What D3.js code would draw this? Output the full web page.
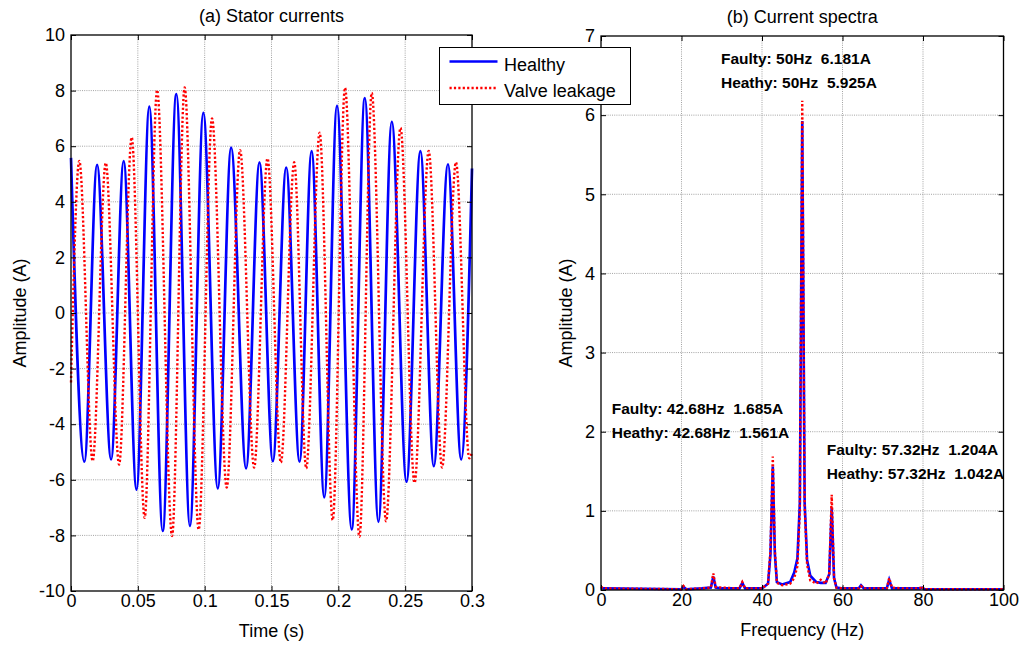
<!DOCTYPE html>
<html>
<head>
<meta charset="utf-8">
<script src="https://cdn.jsdelivr.net/npm/d3@7"></script>
<style>
  body { margin: 0; background: #fff; }
  svg text { font-family: "Liberation Sans", Arial, sans-serif; fill: #000; }
  .grid line { stroke: #8c8c8c; stroke-width: 0.8; stroke-dasharray: 1,1.2; }
  .note { font-weight: bold; font-size: 15.5px; white-space: pre; }
</style>
</head>
<body>
<svg id="chart" width="1022" height="648"></svg>
<script>
// (a) stator currents - peaks/troughs (s, A)
const healthyTime = [0, 0.010, 0.0195, 0.030, 0.0394, 0.049, 0.0586, 0.0686, 0.0788, 0.089,
  0.099, 0.1098, 0.1198, 0.131, 0.141, 0.151, 0.161, 0.171, 0.180, 0.1895,
  0.199, 0.210, 0.2198, 0.230, 0.240, 0.251, 0.2614, 0.2714, 0.282, 0.2919, 0.3];
const healthyCurrent = [5.58, -5.35, 5.33, -5.27, 5.46, -6.35, 7.42, -7.84, 7.87, -7.66,
  7.2, -6.31, 5.95, -5.59, 5.42, -5.33, 5.23, -5.35, 5.82, -6.63,
  7.45, -7.78, 7.73, -7.51, 6.88, -6.07, 5.82, -5.51, 5.35, -5.27, 5.2];

const leakTime = [0, 0.0062, 0.0162, 0.026, 0.036, 0.0454, 0.0551, 0.0644, 0.0756, 0.085,
  0.0955, 0.1055, 0.1165, 0.1265, 0.137, 0.147, 0.157, 0.167, 0.176, 0.186,
  0.1958, 0.205, 0.2158, 0.225, 0.2357, 0.2465, 0.257, 0.2676, 0.2776, 0.288, 0.298, 0.3];
const leakCurrent = [-2.5, 5.47, -5.33, 5.4, -5.45, 6.32, -7.37, 8.02, -8.02, 8.11,
  -7.79, 7.0, -6.28, 5.86, -5.56, 5.56, -5.38, 5.42, -5.59, 6.49,
  -7.45, 8.1, -8.05, 7.92, -7.49, 6.66, -6.11, 5.83, -5.56, 5.42, -5.23, -5.0];

// (b) current spectra (Hz, A)
const freqHz = [0, 0.6, 20, 20.5, 21.2, 25, 27.3, 27.9, 28.5, 30,
  34.4, 35.1, 35.8, 40, 41.5, 42.1, 42.68, 43.2, 43.7, 45,
  47, 48, 48.8, 49.4, 50, 50.6, 51.2, 52, 53.5, 54.6,
  55.8, 56.7, 57.32, 57.9, 58.5, 60, 64, 64.6, 65.3, 70,
  71, 71.6, 72.3, 75, 79.2, 79.7, 80.3, 100];
const specHealthy = [0.03, 0.02, 0.01, 0.04, 0.01, 0.02, 0.03, 0.17, 0.03, 0.02,
  0.02, 0.09, 0.02, 0.02, 0.08, 0.45, 1.561, 0.45, 0.1, 0.07,
  0.1, 0.22, 0.4, 1.1, 5.925, 1.1, 0.38, 0.18, 0.1, 0.09,
  0.09, 0.2, 1.042, 0.15, 0.03, 0.02, 0.02, 0.06, 0.02, 0.02,
  0.02, 0.13, 0.02, 0.02, 0.02, 0.03, 0.01, 0.01];
const specLeak = [0.04, 0.02, 0.01, 0.05, 0.01, 0.02, 0.03, 0.21, 0.04, 0.03,
  0.02, 0.10, 0.02, 0.02, 0.08, 0.5, 1.685, 0.5, 0.09, 0.06,
  0.08, 0.15, 0.3, 1.0, 6.181, 1.05, 0.32, 0.12, 0.08, 0.13,
  0.08, 0.2, 1.204, 0.15, 0.03, 0.02, 0.02, 0.05, 0.02, 0.02,
  0.02, 0.15, 0.03, 0.02, 0.02, 0.05, 0.01, 0.01];

const timeTicks = [0, 0.05, 0.1, 0.15, 0.2, 0.25, 0.3];
const currentTicks = [-10, -8, -6, -4, -2, 0, 2, 4, 6, 8, 10];
const freqTicks = [0, 20, 40, 60, 80, 100];
const ampTicks = [0, 1, 2, 3, 4, 5, 6, 7];

const seriesNames = ["Healthy", "Valve leakage"];
const peakNotes = [
  ["Faulty: 50Hz  6.181A", "Heathy: 50Hz  5.925A"],
  ["Faulty: 42.68Hz  1.685A", "Heathy: 42.68Hz  1.561A"],
  ["Faulty: 57.32Hz  1.204A", "Heathy: 57.32Hz  1.042A"]
];

class Panel {

  constructor(_config) {
    this.config = {
      svg: _config.svg,
      left: _config.left,
      top: _config.top,
      width: _config.width,
      height: _config.height,
      xDomain: _config.xDomain,
      yDomain: _config.yDomain,
      xTicks: _config.xTicks,
      yTicks: _config.yTicks,
      title: _config.title,
      xLabel: _config.xLabel,
      yLabel: _config.yLabel,
      yLabelX: _config.yLabelX
    };
    this.initVis();
  }

  initVis() {
    let vis = this;
    let c = vis.config;

    vis.chart = c.svg.append('g')
      .attr('transform', `translate(${c.left},${c.top})`);

    vis.xScale = d3.scaleLinear().domain(c.xDomain).range([0, c.width]);
    vis.yScale = d3.scaleLinear().domain(c.yDomain).range([c.height, 0]);

    // dotted grid
    let grid = vis.chart.append('g').attr('class', 'grid');
    grid.selectAll('.gx')
      .data(c.xTicks.slice(1, -1))
      .join('line')
      .attr('x1', d => vis.xScale(d)).attr('x2', d => vis.xScale(d))
      .attr('y1', 0).attr('y2', c.height);
    grid.selectAll('.gy')
      .data(c.yTicks.slice(1, -1))
      .join('line')
      .attr('y1', d => vis.yScale(d)).attr('y2', d => vis.yScale(d))
      .attr('x1', 0).attr('x2', c.width);

    vis.lineLayer = vis.chart.append('g');

    // axes, ticks point inwards like matlab
    let fmt = d => String(d);
    vis.chart.append('g')
      .attr('transform', `translate(0,${c.height})`)
      .call(d3.axisBottom(vis.xScale).tickValues(c.xTicks).tickFormat(fmt)
        .tickSizeInner(-5).tickSizeOuter(0).tickPadding(3))
      .call(g => g.select('.domain').remove());
    vis.chart.append('g')
      .call(d3.axisTop(vis.xScale).tickValues(c.xTicks).tickFormat('')
        .tickSizeInner(-5).tickSizeOuter(0))
      .call(g => g.select('.domain').remove());
    vis.chart.append('g')
      .call(d3.axisLeft(vis.yScale).tickValues(c.yTicks).tickFormat(fmt)
        .tickSizeInner(-5).tickSizeOuter(0).tickPadding(6))
      .call(g => g.select('.domain').remove());
    vis.chart.append('g')
      .attr('transform', `translate(${c.width},0)`)
      .call(d3.axisRight(vis.yScale).tickValues(c.yTicks).tickFormat('')
        .tickSizeInner(-5).tickSizeOuter(0))
      .call(g => g.select('.domain').remove());

    vis.chart.selectAll('.tick text')
      .attr('font-size', 18)
      .attr('font-family', '"Liberation Sans", Arial, sans-serif')
      .attr('fill', '#000');
    vis.chart.selectAll('.tick line').attr('stroke', '#000');

    vis.chart.append('rect')
      .attr('width', c.width).attr('height', c.height)
      .attr('fill', 'none').attr('stroke', '#000').attr('stroke-width', 1.3);

    vis.chart.append('text')
      .attr('x', c.width / 2).attr('y', -13)
      .attr('text-anchor', 'middle').attr('font-size', 18)
      .text(c.title);
    vis.chart.append('text')
      .attr('x', c.width / 2).attr('y', c.height + 46)
      .attr('text-anchor', 'middle').attr('font-size', 18)
      .text(c.xLabel);
    vis.chart.append('text')
      .attr('transform', `translate(${c.yLabelX},${c.height / 2}) rotate(-90)`)
      .attr('text-anchor', 'middle').attr('font-size', 18)
      .text(c.yLabel);
  }

  addLine(xs, ys, color, dotted, width, curve) {
    let vis = this;
    let pts = xs.map((x, i) => [x, ys[i]]);
    let line = d3.line()
      .x(d => vis.xScale(d[0]))
      .y(d => vis.yScale(d[1]))
      .curve(curve);
    vis.lineLayer.append('path')
      .datum(pts)
      .attr('d', line)
      .attr('fill', 'none')
      .attr('stroke', color)
      .attr('stroke-width', width)
      .attr('stroke-dasharray', dotted ? '2.2,2.2' : null);
  }
}

const svg = d3.select('#chart');
const blue = '#0000ff', red = '#ff0000';

let stator = new Panel({
  svg: svg, left: 71, top: 35, width: 401, height: 556,
  xDomain: [0, 0.3], yDomain: [-10, 10],
  xTicks: timeTicks, yTicks: currentTicks,
  title: '(a) Stator currents', xLabel: 'Time (s)', yLabel: 'Amplitude (A)',
  yLabelX: -45
});
stator.addLine(healthyTime, healthyCurrent, blue, false, 2.7, d3.curveMonotoneX);
stator.addLine(leakTime, leakCurrent, red, true, 2.4, d3.curveMonotoneX);

let spectra = new Panel({
  svg: svg, left: 601, top: 36, width: 402.5, height: 554,
  xDomain: [0, 100], yDomain: [0, 7],
  xTicks: freqTicks, yTicks: ampTicks,
  title: '(b) Current spectra', xLabel: 'Frequency (Hz)', yLabel: 'Amplitude (A)',
  yLabelX: -29
});
spectra.addLine(freqHz, specHealthy, blue, false, 2.6, d3.curveLinear);
spectra.addLine(freqHz, specLeak, red, true, 2.4, d3.curveLinear);

// peak annotations, anchored in data coordinates
const noteAnchors = [[29.8, 6.64], [2.66, 2.22], [56.07, 1.71]];
peakNotes.forEach((pair, i) => {
  pair.forEach((txt, j) => {
    spectra.chart.append('text')
      .attr('class', 'note')
      .attr('x', spectra.xScale(noteAnchors[i][0]))
      .attr('y', spectra.yScale(noteAnchors[i][1]) + j * 24)
      .text(txt);
  });
});

// legend
let legend = svg.append('g').attr('transform', 'translate(439.5,47.5)');
legend.append('rect')
  .attr('width', 191).attr('height', 57)
  .attr('fill', '#fff').attr('stroke', '#000').attr('stroke-width', 1);
seriesNames.forEach((name, i) => {
  let y = 14 + i * 26.5;
  legend.append('line')
    .attr('x1', 10).attr('x2', 58).attr('y1', y).attr('y2', y)
    .attr('stroke', i === 0 ? blue : red)
    .attr('stroke-width', i === 0 ? 2.7 : 2.4)
    .attr('stroke-dasharray', i === 0 ? null : '2.2,2.2');
  legend.append('text')
    .attr('x', 64.5).attr('y', y + 9)
    .attr('font-size', 18)
    .text(name);
});
</script>
</body>
</html>
